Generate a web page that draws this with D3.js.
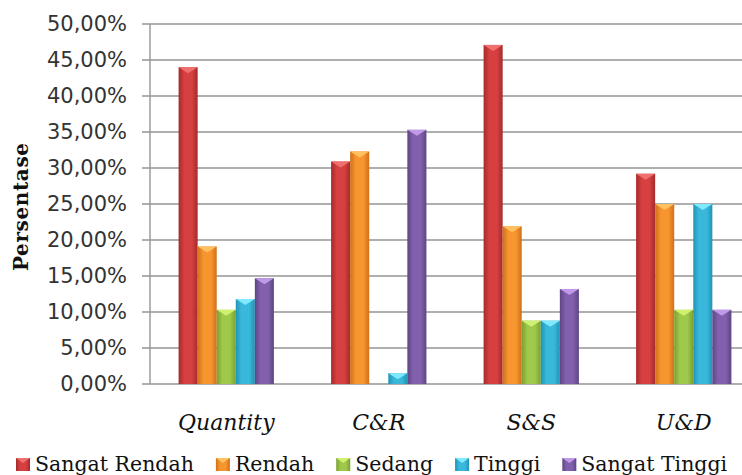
<!DOCTYPE html>
<html>
<head>
<meta charset="utf-8">
<script src="https://cdn.jsdelivr.net/npm/d3@7"></script>
<style>
  body { margin: 0; background: #fff; }
  svg { display: block; }
  .serif { font-family: "DejaVu Serif", serif; }
</style>
</head>
<body>
<script>
var categories = ["Quantity", "C&R", "S&S", "U&D"];
var series = ["Sangat Rendah", "Rendah", "Sedang", "Tinggi", "Sangat Tinggi"];

// one array per series, values in percent, same order as categories
var sangat_rendah = [44.0, 30.9, 47.1, 29.2];
var rendah        = [19.1, 32.3, 21.9, 25.0];
var sedang        = [10.3, 0.0, 8.8, 10.3];
var tinggi        = [11.8, 1.5, 8.8, 25.0];
var sangat_tinggi = [14.7, 35.3, 13.2, 10.3];

var y_ticks = [0, 5, 10, 15, 20, 25, 30, 35, 40, 45, 50];

var values = [sangat_rendah, rendah, sedang, tinggi, sangat_tinggi];
var colors = [
    {dark: "#a52a2a", mid: "#d64040", light: "#f07070"},
    {dark: "#d0701a", mid: "#f7952e", light: "#ffc060"},
    {dark: "#7aa030", mid: "#9ec94a", light: "#d0f070"},
    {dark: "#1f94b4", mid: "#3ab8db", light: "#80e8ff"},
    {dark: "#5e4585", mid: "#8260ad", light: "#c09ae8"}
];

var width = 742, height = 475;
var svg = d3.select("body").append("svg").attr("width", width).attr("height", height);

var locale = d3.formatLocale({decimal: ",", thousands: ".", grouping: [3], currency: ["", ""]});
var fmt = locale.format(".2f");

var y = d3.scaleLinear().domain([0, 50]).range([384, 24]);
var x = d3.scaleBand().domain(categories).range([150, 760]).paddingInner(0.375).paddingOuter(0.1875);
var xs = d3.scaleBand().domain(series).range([0, x.bandwidth()]);

// gradients for the bars (darker edges, lighter left-centre)
var defs = svg.append("defs");
colors.forEach(function(c, i) {
    var g = defs.append("linearGradient").attr("id", "grad" + i)
        .attr("x1", "0").attr("x2", "1").attr("y1", "0").attr("y2", "0");
    g.append("stop").attr("offset", "0%").attr("stop-color", c.dark);
    g.append("stop").attr("offset", "30%").attr("stop-color", c.mid);
    g.append("stop").attr("offset", "70%").attr("stop-color", c.mid);
    g.append("stop").attr("offset", "100%").attr("stop-color", c.dark);
});

// grid lines + little ticks on the left
svg.append("g").selectAll("line")
    .data(y_ticks)
    .enter().append("line")
    .attr("x1", 142).attr("x2", width)
    .attr("y1", d => y(d)).attr("y2", d => y(d))
    .attr("stroke", "#959595").attr("stroke-width", 1.4);

svg.append("line")
    .attr("x1", 150).attr("x2", 150)
    .attr("y1", y(50)).attr("y2", y(0))
    .attr("stroke", "#959595").attr("stroke-width", 1.4);

svg.append("g").selectAll("text")
    .data(y_ticks)
    .enter().append("text")
    .attr("x", 127).attr("y", d => y(d) + 7)
    .attr("text-anchor", "end")
    .style("font-family", "DejaVu Sans")
    .style("font-size", "21px")
    .attr("fill", "#333")
    .text(d => fmt(d) + "%");

svg.append("text")
    .attr("transform", "translate(28,207) rotate(-90)")
    .attr("text-anchor", "middle")
    .style("font-family", "DejaVu Serif")
    .style("font-weight", "bold")
    .style("font-size", "20px")
    .attr("textLength", 128)
    .attr("fill", "#111")
    .text("Persentase");

// bars
series.forEach(function(s, si) {
    var g = svg.append("g");
    var bw = xs.bandwidth();
    var bars = g.selectAll("g")
        .data(categories.map((c, ci) => ({cat: c, v: values[si][ci]})).filter(d => d.v > 0))
        .enter().append("g")
        .attr("transform", d => "translate(" + (x(d.cat) + xs(s)) + ",0)");
    bars.append("rect")
        .attr("x", 0).attr("width", bw)
        .attr("y", d => y(d.v)).attr("height", d => y(0) - y(d.v))
        .attr("fill", "url(#grad" + si + ")");
    bars.append("path")
        .attr("d", d => "M0," + y(d.v) + "H" + bw + "L" + (bw / 2) + "," + (y(d.v) + 6) + "Z")
        .attr("fill", colors[si].light);
});

// category labels
svg.append("g").selectAll("text")
    .data(categories)
    .enter().append("text")
    .attr("class", "serif")
    .attr("x", d => x(d) + x.bandwidth() / 2)
    .attr("y", 430)
    .attr("text-anchor", "middle")
    .style("font-style", "italic")
    .style("font-size", "22px")
    .attr("fill", "#111")
    .text(d => d);

// legend, items laid out one after the other
var lx = 16;
series.forEach(function(s, i) {
    var item = svg.append("g").attr("transform", "translate(" + lx + ",458)");
    item.append("rect").attr("width", 14).attr("height", 13)
        .attr("fill", "url(#grad" + i + ")");
    item.append("path").attr("d", "M0,0H14L7,5Z").attr("fill", colors[i].light);
    var t = item.append("text")
        .attr("class", "serif")
        .attr("x", 19).attr("y", 13)
        .style("font-size", "20.5px")
        .attr("fill", "#111")
        .text(s);
    lx += 19 + t.node().getComputedTextLength() + 22;
});
</script>
</body>
</html>
